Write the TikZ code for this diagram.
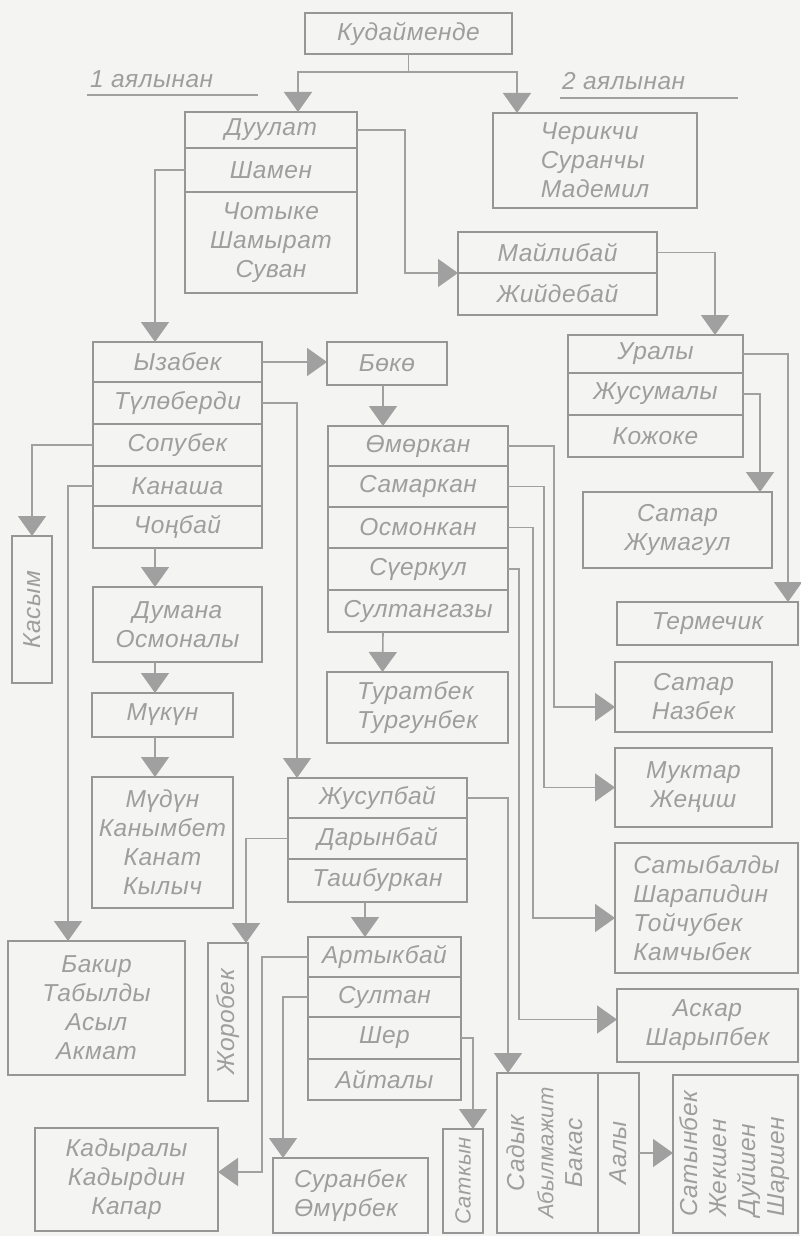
\documentclass[tikz,border=0pt]{standalone}
\usepackage{fontspec}
\usepackage{graphicx}
\setmainfont{Liberation Sans}
\newfontfamily\namefont[LetterSpace=2]{Liberation Sans}
\usepackage{tikz}
\usetikzlibrary{arrows.meta, positioning, calc}

\definecolor{paper}{RGB}{244,244,242}
\definecolor{frame}{RGB}{150,150,150}
\definecolor{wirec}{RGB}{160,160,160}
\definecolor{ink}{RGB}{158,158,158}

\tikzset{
  box/.style={draw=frame, line width=2.6pt, inner sep=0pt, outer sep=0pt, text=ink, align=center,
    font=\namefont\itshape\fontsize{24.5}{29}\selectfont},
  link/.style={draw=wirec, line width=1.6pt, -{Triangle[length=20pt,width=28pt]}},
  wire/.style={draw=wirec, line width=1.6pt},
  wife/.style={text=ink, inner sep=0pt, font=\namefont\itshape\fontsize{24.5}{29}\selectfont},
}

\begin{document}
\begin{tikzpicture}[x=1pt, y=-1pt]
    % Page
    \fill[paper] (0,0) rectangle (800,1236);
    \useasboundingbox (0,0) rectangle (800,1236);

    % Ancestor and the two wives
    \node[box, minimum width=207pt, minimum height=41pt] (kud) at (408.5,33.5) {Кудайменде};
    \node[wife, anchor=base west] (w1) at (90,88) {1 аялынан};
    \draw[wire] ($(w1.base west)+(-3,7)$) -- ++(171,0);
    \node[wife, anchor=base west] (w2) at (562,90) {2 аялынан};
    \draw[wire] ($(w2.base west)+(-2,8)$) -- ++(178,0);

    % Sons of the first wife
    \foreach \nm/\cy/\h/\txt in {dul/130/36/Дуулат, sham/170/44/Шамен}
        \node[box, minimum width=172pt, minimum height=\h pt] (\nm) at (271,\cy) {\txt};
    \node[box, minimum width=172pt, minimum height=101pt] (cht) at (271,242.5) {Чотыке\\Шамырат\\Суван};

    % Sons of the second wife
    \node[box, align=left, minimum width=204pt, minimum height=95pt] (cher) at (595,160.5) {Черикчи\\Суранчы\\Мадемил};

    % Дуулат's line
    \foreach \nm/\cy/\h/\txt in {mai/252.5/41/Майлибай, zhiy/294/42/Жийдебай}
        \node[box, minimum width=199pt, minimum height=\h pt] (\nm) at (557.5,\cy) {\txt};
    \foreach \nm/\cy/\h/\txt in {ura/354/38/Уралы, zhus/394/42/Жусумалы, kozh/436/42/Кожоке}
        \node[box, minimum width=175pt, minimum height=\h pt] (\nm) at (655.5,\cy) {\txt};
    \node[box, minimum width=189pt, minimum height=76pt] (sat1) at (677.5,530) {Сатар\\Жумагул};
    \node[box, minimum width=181pt, minimum height=43pt] (term) at (707.5,623.5) {Термечик};

    % Шамен's line
    \foreach \nm/\cy/\h/\txt in {yz/362/40/Ызабек, tul/403/42/Түлөберди, sop/445/42/Сопубек, kan/486/40/Канаша, chon/527/42/Чоңбай}
        \node[box, minimum width=169pt, minimum height=\h pt] (\nm) at (177.5,\cy) {\txt};
    \node[box, minimum width=120pt, minimum height=43pt] (bok) at (387,363.5) {Бөкө};
    \foreach \nm/\cy/\h/\txt in {om/446/40/Өмөркан, sam/486.5/41/Самаркан, osm/527.5/41/Осмонкан, suer/569/42/Сүеркул, sult/611/42/Султангазы}
        \node[box, minimum width=180pt, minimum height=\h pt] (\nm) at (418,\cy) {\txt};
    \node[box, align=left, minimum width=181pt, minimum height=71pt] (tur) at (417.5,707.5) {Туратбек\\Тургунбек};

    \node[box, minimum width=40pt, minimum height=147pt] (kas) at (32,609.5) {\rotatebox{90}{Касым}};
    \node[box, minimum width=169pt, minimum height=75pt] (dum) at (177.5,624.5) {Думана\\Осмоналы};
    \node[box, minimum width=141pt, minimum height=44pt] (muk) at (162.5,715) {Мүкүн};
    \node[box, minimum width=141pt, minimum height=131pt] (mud) at (162.5,842.5) {Мүдүн\\Канымбет\\Канат\\Кылыч};

    % Grandsons on the right
    \node[box, minimum width=157pt, minimum height=70pt] (naz) at (693.5,697) {Сатар\\Назбек};
    \node[box, minimum width=157pt, minimum height=79pt] (mukt) at (693.5,787.5) {Муктар\\Жеңиш};
    \node[box, align=left, minimum width=183pt, minimum height=130pt] (satyb) at (706.5,908) {Сатыбалды\\Шарапидин\\Тойчубек\\Камчыбек};
    \node[box, minimum width=181pt, minimum height=73pt] (ask) at (707.5,1025.5) {Аскар\\Шарыпбек};

    % Түлөберди's line
    \foreach \nm/\cy/\h/\txt in {zhup/798/40/Жусупбай, dar/838.5/41/Дарынбай, tash/880.5/43/Ташбуркан}
        \node[box, minimum width=179pt, minimum height=\h pt] (\nm) at (377.5,\cy) {\txt};
    \foreach \nm/\cy/\h/\txt in {art/957/40/Артыкбай, sul/997/40/Султан, sher/1038/42/Шер, ait/1079.5/41/Айталы}
        \node[box, minimum width=153pt, minimum height=\h pt] (\nm) at (384.5,\cy) {\txt};

    \node[box, minimum width=177pt, minimum height=134pt] (bak) at (96.5,1008) {Бакир\\Табылды\\Асыл\\Акмат};
    \node[box, minimum width=40pt, minimum height=158pt] (zhor) at (228,1022) {\rotatebox{90}{Жоробек}};
    \node[box, minimum width=183pt, minimum height=103pt] (kad) at (126.5,1179.5) {Кадыралы\\Кадырдин\\Капар};
    \node[box, align=left, minimum width=155pt, minimum height=75pt] (sur) at (350.5,1195.5) {Суранбек\\Өмүрбек};
    \node[box, minimum width=40pt, minimum height=104pt, font=\namefont\itshape\fontsize{22}{26}\selectfont] (satk) at (463,1181) {\rotatebox{90}{Саткын}};
    \node[box, minimum width=101pt, minimum height=160pt] (sad) at (547.5,1153)
        {\rotatebox{90}{\begin{tabular}{@{}c@{}}Садык\\{\fontsize{22}{29}\selectfont Абылмажит}\\Бакас\end{tabular}}};
    \node[box, minimum width=41pt, minimum height=160pt] (aal) at (618.5,1153) {\rotatebox{90}{Аалы}};
    \node[box, minimum width=125pt, minimum height=158pt] (satyn) at (735.5,1154)
        {\rotatebox{90}{\begin{tabular}{@{}l@{}}Сатынбек\\Жекшен\\Дуйшен\\Шаршен\end{tabular}}};

    % Connectors
    \coordinate (split) at (408.5,72);
    \draw[wire] (kud.south) -- (split);
    \draw[link] (split) -| ([xshift=27pt]dul.north);
    \draw[link] (split) -| ([xshift=-78pt]cher.north);

    \draw[link] (dul.east) -- ++(48,0) |- (mai.south west);
    \draw[link] (mai.east) -| ([xshift=59.5pt]ura.north);
    \draw[link] (ura.east) -| ([xshift=80.5pt]term.north);
    \draw[link] (zhus.east) -| ([xshift=82.5pt]sat1.north);

    \draw[link] (sham.west) -| ([xshift=-22.5pt]yz.north);
    \draw[link] (yz.east) -- (yz.east -| bok.west);
    \draw[link] (bok.south -| 383,0) -- (om.north -| 383,0);
    \draw[link] ([xshift=-35pt]sult.south) -- ([xshift=-35pt]tur.north);

    \draw[link] (om.east) -- ++(46,0) |- ([yshift=-10pt]naz.west);
    \draw[link] (sam.east) -- ++(36,0) |- (mukt.west);
    \draw[link] (osm.east) -- ++(25,0) |- ([yshift=-10pt]satyb.west);
    \draw[link] (suer.east) -- ++(11,0) |- ([yshift=6pt]ask.west);

    \draw[link] (sop.west) -| (kas.north);
    \draw[link] (kan.west) -| ([xshift=-28.5pt]bak.north);
    \draw[link] ([xshift=-22.5pt]chon.south) -- ([xshift=-22.5pt]dum.north);
    \draw[link] (dum.south -| 155,0) -- (muk.north -| 155,0);
    \draw[link] (muk.south -| 155,0) -- (mud.north -| 155,0);

    \draw[link] (tul.east) -| ([xshift=-80.5pt]zhup.north);
    \draw[link] (zhup.east) -| ([xshift=-39.5pt]sad.north);
    \draw[link] (dar.west) -| ([xshift=18pt]zhor.north);
    \draw[link] (tash.south -| 365,0) -- (art.north -| 365,0);

    \draw[link] (art.west) -- ++(-46,0) |- ([yshift=7.5pt]kad.east);
    \draw[link] (sul.west) -| ([xshift=-67.5pt]sur.north);
    \draw[link] (sher.east) -| ([xshift=10pt]satk.north);
    \draw[link] (aal.east) -- (aal.east -| satyn.west);
\end{tikzpicture}
\end{document}
